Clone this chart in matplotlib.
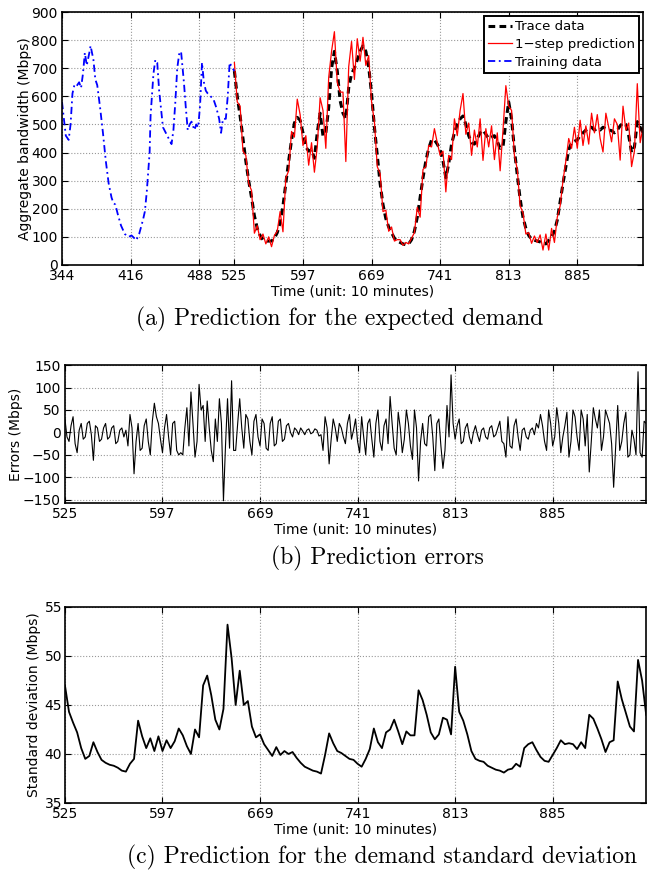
import matplotlib
matplotlib.use("Agg")
import matplotlib.pyplot as plt
import numpy as np

plt.rcParams['font.family'] = 'DejaVu Sans'
plt.rcParams['font.size'] = 10

# training part (blue)
train_time = [344, 346, 348, 351, 353, 355, 357, 359, 362, 364, 366, 368, 370, 373, 374,
              377, 379, 381, 384, 387, 390, 393, 396, 398, 400, 403, 406, 410, 414, 417,
              420, 422, 425, 429, 431, 433, 436, 437, 440, 442, 444, 446, 450, 453, 456,
              459, 461, 463, 465, 467, 469, 472, 474, 476, 478, 480, 483, 485, 487, 489,
              491, 493, 495, 497, 500, 503, 506, 509, 511, 513, 516, 518, 520, 523, 525]
train_bw = [580, 520, 460, 445, 500, 610, 640, 635, 650, 630, 680, 755, 710, 760, 780,
            730, 660, 640, 560, 470, 370, 290, 240, 220, 215, 175, 140, 110, 100, 105,
            95, 88, 110, 160, 190, 260, 400, 530, 680, 730, 720, 620, 490, 470, 450,
            430, 480, 580, 700, 750, 760, 650, 560, 480, 500, 510, 480, 500, 490, 570,
            720, 650, 620, 610, 600, 590, 560, 520, 470, 520, 520, 600, 720, 700, 690]

# test part: trace and std every 3 time units, errors every 1.5 (525 .. 954)
test_time = np.arange(525, 955, 3)
err_time = np.arange(525, 954.1, 1.5)
trace_bw = [690, 600, 530, 450, 370, 300, 240, 175, 130, 105, 90, 85, 85, 85, 95,
            115, 150, 210, 290, 370, 445, 505, 525, 515, 470, 420, 405, 410, 380, 470,
            540, 460, 470, 560, 700, 760, 690, 585, 540, 520, 630, 680, 700, 730, 760,
            780, 760, 705, 610, 490, 390, 290, 215, 165, 135, 115, 95, 85, 80, 75,
            72, 75, 90, 120, 170, 240, 310, 370, 415, 445, 445, 430, 410, 370, 310,
            360, 430, 470, 500, 520, 530, 500, 460, 435, 430, 450, 470, 480, 465, 450,
            455, 460, 440, 415, 420, 510, 580, 520, 410, 320, 235, 170, 130, 105, 92,
            88, 85, 82, 78, 75, 88, 100, 120, 160, 225, 290, 350, 410, 435, 440,
            445, 460, 470, 480, 485, 490, 480, 485, 480, 490, 485, 480, 478, 470, 480,
            495, 505, 500, 460, 400, 420, 510, 490, 470]
errors = [30, -10, -20, 15, 35, -25, -45, 5, 20, -15, -10, 20, 25, -5, -62,
          15, 10, -20, -15, 10, 20, -15, -10, 10, 15, -25, -20, 5, 10, -10,
          5, -30, 40, 10, -92, -20, 20, -40, -35, 15, 30, -20, -50, 25, 65,
          35, 20, -15, -45, 10, 40, -10, -50, 20, 25, -40, -50, -45, -50, 10,
          55, -30, 90, 20, -55, -20, 107, 50, 60, -20, 70, 10, -40, -65, 30,
          -20, 75, 20, -152, -30, 75, -35, 115, -40, -40, 20, 75, 10, -35, 40,
          30, -20, -50, 25, 40, -10, -30, 30, 20, -35, -40, 20, 35, -30, -25,
          25, 30, -20, -15, 15, 20, 0, -10, 10, 5, -5, 10, 3, -5, 5,
          8, -3, 0, 8, 5, -8, -5, -40, 35, 10, -70, -15, 30, 10, -20,
          20, 10, -10, -25, 20, 40, -15, 5, 30, -20, -45, 35, -10, -50, 20,
          30, -15, -55, 20, 50, -20, -40, 15, 30, -25, 80, 20, -35, -50, 45,
          10, -45, -15, 50, 20, -30, -60, 50, 10, -108, -20, 20, -25, -30, 35,
          40, -10, -85, 20, 30, -30, -80, -40, 60, -10, 128, 20, -15, 15, 30,
          -25, -20, 10, 20, -10, -25, 0, 15, -5, -20, 5, 10, -10, -15, 10,
          15, -10, -5, 10, 25, -20, -25, -55, 35, -30, -35, 15, 30, -10, -40,
          5, 10, -10, -15, 5, 10, -5, 20, 10, 40, 15, -20, -40, 50, 20,
          -30, -10, 55, 20, -45, -10, 15, 45, -55, -20, 50, 35, -10, -40, 50,
          30, -30, 40, -88, -20, 55, 30, 10, 50, -40, -10, 50, 35, 20, -25,
          -122, -30, 60, -40, -20, 20, 45, -55, -50, 5, -15, -50, 135, -45, -55,
          25, 20]
std_dev = [47.0, 44.3, 43.2, 42.2, 40.6, 39.5, 39.8, 41.2, 40.2, 39.4, 39.1, 38.9, 38.8, 38.6, 38.3,
           38.2, 39.0, 39.5, 43.4, 41.8, 40.6, 41.6, 40.3, 41.8, 40.3, 41.4, 40.6, 41.3, 42.6, 41.9,
           40.8, 40.0, 42.5, 41.7, 47.0, 48.0, 46.0, 43.5, 42.5, 44.6, 53.2, 49.8, 45.0, 48.5, 45.0,
           45.4, 42.8, 41.7, 42.0, 41.0, 40.4, 39.8, 40.7, 39.9, 40.3, 40.0, 40.2, 39.6, 39.1, 38.7,
           38.5, 38.3, 38.2, 38.0, 39.9, 42.1, 41.1, 40.3, 40.1, 39.8, 39.5, 39.4, 39.0, 38.7, 39.5,
           40.5, 42.6, 41.2, 40.6, 42.2, 42.5, 43.5, 42.3, 41.0, 42.3, 41.9, 41.9, 46.5, 45.5, 44.0,
           42.2, 41.5, 42.0, 43.7, 43.5, 42.0, 48.9, 44.3, 43.4, 42.0, 40.3, 39.5, 39.3, 39.2, 38.8,
           38.6, 38.4, 38.3, 38.1, 38.4, 38.5, 39.0, 38.7, 40.6, 41.0, 41.2, 40.4, 39.7, 39.3, 39.2,
           39.9, 40.6, 41.4, 41.0, 41.1, 41.0, 40.5, 41.2, 40.6, 44.0, 43.6, 42.6, 41.5, 40.2, 41.2,
           41.4, 47.4, 45.6, 44.2, 42.8, 42.3, 49.6, 47.5, 44.0]

# prediction = trace + error at the common time points
prediction = np.array(trace_bw) + np.array(errors)[::2]

ticks_a = [344, 416, 488, 525, 597, 669, 741, 813, 885]
ticks_bc = [525, 597, 669, 741, 813, 885]
xlabel = 'Time (unit: 10 minutes)'


def style(ax):
    ax.grid(True, linestyle=':', color='#999999', linewidth=0.8)
    ax.tick_params(direction='in', top=True, right=True, length=4, pad=3, labelsize=10)
    for s in ax.spines.values():
        s.set_linewidth(1.2)


fig = plt.figure(figsize=(6.56, 8.71), dpi=100)

# (a)
ax1 = fig.add_axes([0.0945, 0.6958, 0.8857, 0.2904])
ax1.plot(test_time, trace_bw, color='black', linewidth=2.2, linestyle='--', dashes=(2.2, 1.4),
         label='Trace data')
ax1.plot(test_time, prediction, color='red', linewidth=0.9, label='1\u2212step prediction')
ax1.plot(train_time, train_bw, color='blue', linewidth=1.3, linestyle='-.',
         dashes=(4, 2, 1, 2), label='Training data')
ax1.set_xlim(344, 954)
ax1.set_ylim(0, 900)
ax1.set_xticks(ticks_a)
ax1.set_yticks(np.arange(0, 901, 100))
style(ax1)
ax1.set_xlabel(xlabel, labelpad=1)
ax1.set_ylabel('Aggregate bandwidth (Mbps)')
ax1.yaxis.set_label_coords(-0.052, 0.5)
leg = ax1.legend(loc='upper right', fancybox=False, edgecolor='black', framealpha=1,
                 fontsize=9.5, handlelength=1.8, handletextpad=0.2, labelspacing=0.36,
                 borderpad=0.33, borderaxespad=0.3)
leg.get_frame().set_linewidth(1.4)

# (b)
ax2 = fig.add_axes([0.099, 0.4225, 0.886, 0.1584])
ax2.plot(err_time, errors, color='black', linewidth=0.8)
ax2.set_xlim(525, 954)
ax2.set_ylim(-157, 150)
ax2.set_xticks(ticks_bc)
ax2.set_yticks(np.arange(-150, 151, 50))
style(ax2)
ax2.set_xlabel(xlabel, labelpad=1)
ax2.set_ylabel('Errors (Mbps)')
ax2.yaxis.set_label_coords(-0.072, 0.5)

# (c)
ax3 = fig.add_axes([0.099, 0.0781, 0.886, 0.225])
ax3.plot(test_time, std_dev, color='black', linewidth=1.3)
ax3.set_xlim(525, 954)
ax3.set_ylim(35, 55)
ax3.set_xticks(ticks_bc)
ax3.set_yticks(np.arange(35, 56, 5))
style(ax3)
ax3.tick_params(axis='y', pad=2)
ax3.set_xlabel(xlabel, labelpad=1)
ax3.set_ylabel('Standard deviation (Mbps)')
ax3.yaxis.set_label_coords(-0.042, 0.5)

cap = dict(family='cmr10', fontsize=17, ha='center', va='center')
fig.text(0.518, 0.633, '(a) Prediction for the expected demand', **cap)
fig.text(0.575, 0.359, '(b) Prediction errors', **cap)
fig.text(0.582, 0.015, '(c) Prediction for the demand standard deviation', **cap)

fig.savefig('out.png', dpi=100)
